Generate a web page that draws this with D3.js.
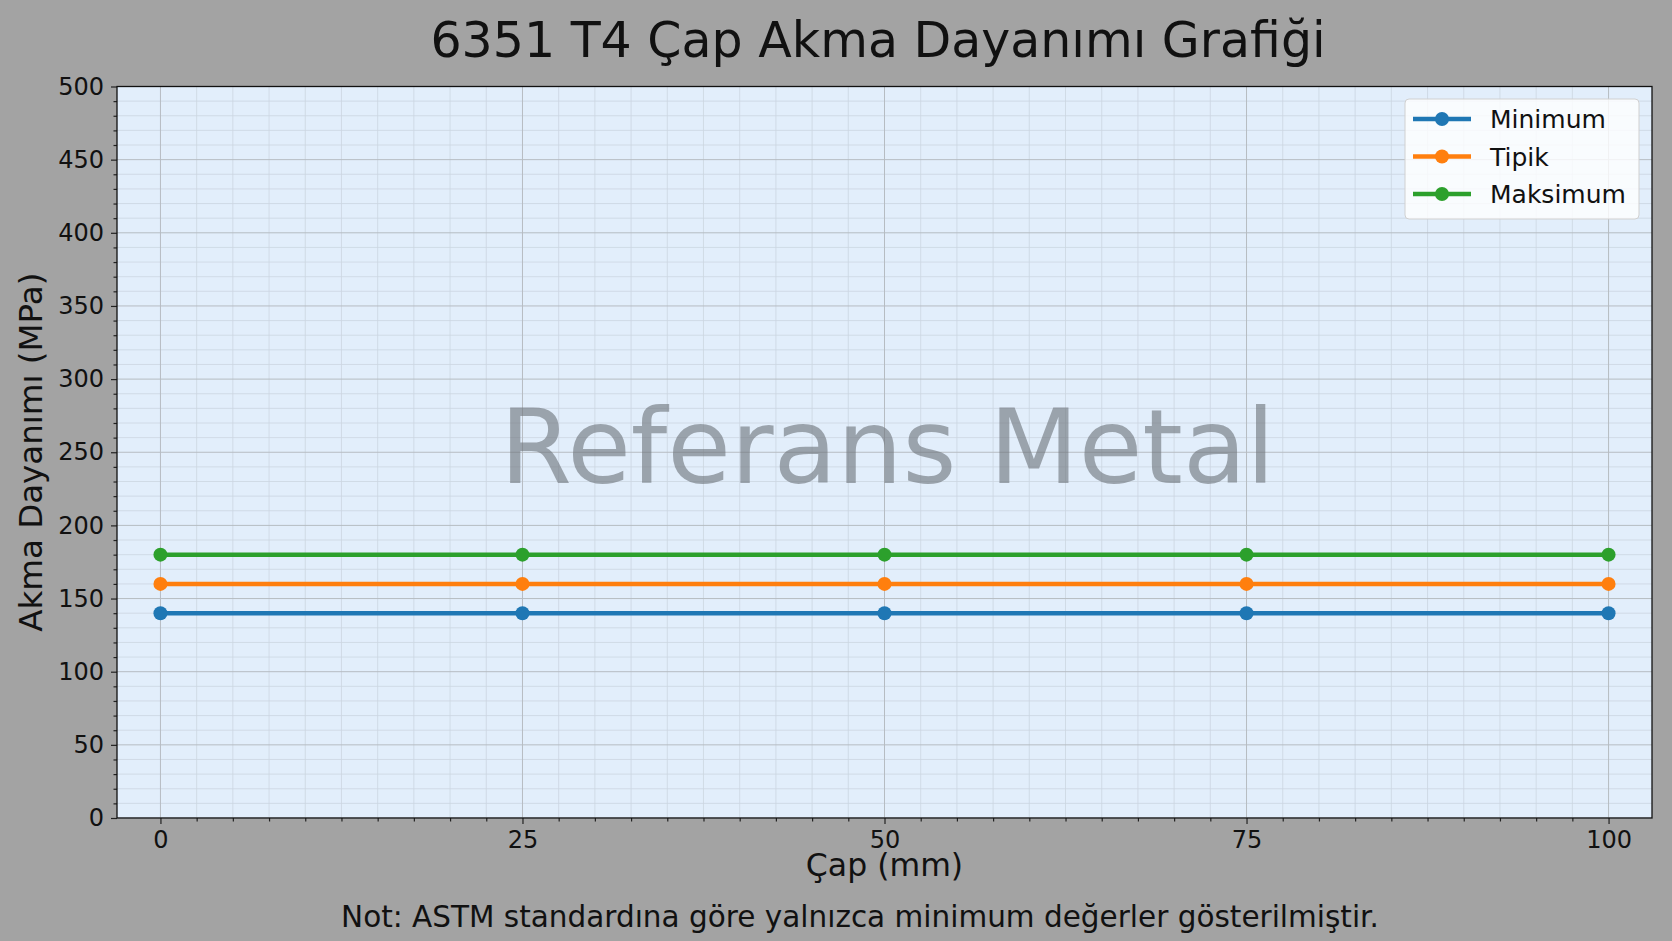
<!DOCTYPE html>
<html>
<head>
<meta charset="utf-8">
<script src="https://cdn.jsdelivr.net/npm/d3@7"></script>
<style>
  html, body { margin: 0; padding: 0; background: #a3a3a3; }
  svg { display: block; font-family: "DejaVu Sans", sans-serif; }
</style>
</head>
<body>
<svg id="chart"></svg>
<script>
// Veriler
var diameters = [0, 25, 50, 75, 100];
var minValues = [140, 140, 140, 140, 140];
var typValues = [160, 160, 160, 160, 160];
var maxValues = [180, 180, 180, 180, 180];
var seriesNames = ["Minimum", "Tipik", "Maksimum"];
var xTicks = [0, 25, 50, 75, 100];
var yTicks = [0, 50, 100, 150, 200, 250, 300, 350, 400, 450, 500];

var W = 1672, H = 941;
var margin = { top: 86.5, right: 20, bottom: 123, left: 117 };
var iw = W - margin.left - margin.right,
    ih = H - margin.top - margin.bottom;

var colors = ["#1f77b4", "#ff7f0e", "#2ca02c"];
var series = [minValues, typValues, maxValues].map((vals, i) => ({
    name: seriesNames[i],
    color: colors[i],
    points: vals.map((v, j) => ({ x: diameters[j], y: v }))
}));

var svg = d3.select("#chart").attr("width", W).attr("height", H);

svg.append("rect").attr("width", W).attr("height", H).attr("fill", "#a3a3a3");

var x = d3.scaleLinear().domain([-3, 103]).range([0, iw]);
var y = d3.scaleLinear().domain([0, 500]).range([ih, 0]);

var g = svg.append("g").attr("transform", `translate(${margin.left},${margin.top})`);

// arka plan
g.append("rect").attr("width", iw).attr("height", ih).attr("fill", "#e2eefb");

// küçük ızgara
var xMinor = d3.range(0, 100.01, 2.5).filter(d => xTicks.indexOf(d) < 0);
var yMinor = d3.range(0, 500.01, 10).filter(d => yTicks.indexOf(d) < 0);

g.append("g").selectAll("line").data(xMinor).enter().append("line")
    .attr("x1", d => x(d)).attr("x2", d => x(d)).attr("y1", 0).attr("y2", ih)
    .attr("stroke", "#cbd6e1").attr("stroke-width", 0.8);
g.append("g").selectAll("line").data(yMinor).enter().append("line")
    .attr("x1", 0).attr("x2", iw).attr("y1", d => y(d)).attr("y2", d => y(d))
    .attr("stroke", "#cbd6e1").attr("stroke-width", 0.8);

// ana ızgara
g.append("g").selectAll("line").data(xTicks).enter().append("line")
    .attr("x1", d => x(d)).attr("x2", d => x(d)).attr("y1", 0).attr("y2", ih)
    .attr("stroke", "#b6bcc2").attr("stroke-width", 1);
g.append("g").selectAll("line").data(yTicks).enter().append("line")
    .attr("x1", 0).attr("x2", iw).attr("y1", d => y(d)).attr("y2", d => y(d))
    .attr("stroke", "#b6bcc2").attr("stroke-width", 1);

// filigran
g.append("text")
    .attr("x", iw / 2 + 3).attr("y", 396)
    .attr("text-anchor", "middle")
    .style("font-size", "103.5px")
    .attr("fill", "#6b7178").attr("fill-opacity", 0.6)
    .text("Referans Metal");

// çizgiler
var line = d3.line().x(d => x(d.x)).y(d => y(d.y));

var sg = g.selectAll(".series").data(series).enter().append("g").attr("class", "series");
sg.append("path")
    .attr("d", d => line(d.points))
    .attr("fill", "none")
    .attr("stroke", d => d.color)
    .attr("stroke-width", 4.5);
sg.each(function(s) {
    d3.select(this).selectAll("circle").data(s.points).enter().append("circle")
        .attr("cx", d => x(d.x)).attr("cy", d => y(d.y)).attr("r", 7)
        .attr("fill", s.color);
});

// eksenler
var xAxis = g.append("g").attr("transform", `translate(0,${ih})`)
    .call(d3.axisBottom(x).tickValues(xTicks).tickSize(6).tickPadding(7).tickFormat(d3.format("d")));
var xAxisMinor = g.append("g").attr("transform", `translate(0,${ih})`)
    .call(d3.axisBottom(x).tickValues(xMinor).tickSize(3.5).tickFormat(""));
var yAxis = g.append("g")
    .call(d3.axisLeft(y).tickValues(yTicks).tickSize(6).tickPadding(7).tickFormat(d3.format("d")));
var yAxisMinor = g.append("g")
    .call(d3.axisLeft(y).tickValues(yMinor).tickSize(3.5).tickFormat(""));

[xAxis, yAxis, xAxisMinor, yAxisMinor].forEach(a => {
    a.select(".domain").remove();
    a.selectAll(".tick line").attr("stroke", "#222").attr("stroke-width", 1.2);
    a.selectAll(".tick text").attr("fill", "#111").style("font-size", "24px")
        .style("font-family", "DejaVu Sans, sans-serif");
});

// çerçeve
g.append("rect").attr("width", iw).attr("height", ih)
    .attr("fill", "none").attr("stroke", "#111").attr("stroke-width", 1.3);

// başlık ve eksen adları
svg.append("text")
    .attr("x", 878).attr("y", 57)
    .attr("text-anchor", "middle")
    .style("font-size", "49px").attr("fill", "#111")
    .text("6351 T4 Çap Akma Dayanımı Grafiği");

svg.append("text")
    .attr("x", margin.left + iw / 2).attr("y", 876)
    .attr("text-anchor", "middle")
    .style("font-size", "31.5px").attr("fill", "#111")
    .text("Çap (mm)");

svg.append("text")
    .attr("transform", `translate(42,${margin.top + ih / 2}) rotate(-90)`)
    .attr("text-anchor", "middle")
    .style("font-size", "32.5px").attr("fill", "#111")
    .text("Akma Dayanımı (MPa)");

svg.append("text")
    .attr("x", 860).attr("y", 927)
    .attr("text-anchor", "middle")
    .style("font-size", "29.5px").attr("fill", "#111")
    .text("Not: ASTM standardına göre yalnızca minimum değerler gösterilmiştir.");

// lejant
var lg = svg.append("g").attr("transform", "translate(1405,99)");
lg.append("rect").attr("width", 234).attr("height", 120).attr("rx", 4)
    .attr("fill", "#ffffff").attr("fill-opacity", 0.8)
    .attr("stroke", "#d0d0d0").attr("stroke-width", 1);
var item = lg.selectAll(".item").data(series).enter().append("g")
    .attr("transform", (d, i) => `translate(0,${20 + i * 37.5})`);
item.append("line").attr("x1", 8).attr("x2", 66)
    .attr("stroke", d => d.color).attr("stroke-width", 4.5);
item.append("circle").attr("cx", 37).attr("r", 7).attr("fill", d => d.color);
item.append("text").attr("x", 85).attr("dy", "0.36em")
    .style("font-size", "25px").attr("fill", "#111")
    .text(d => d.name);
</script>
</body>
</html>
